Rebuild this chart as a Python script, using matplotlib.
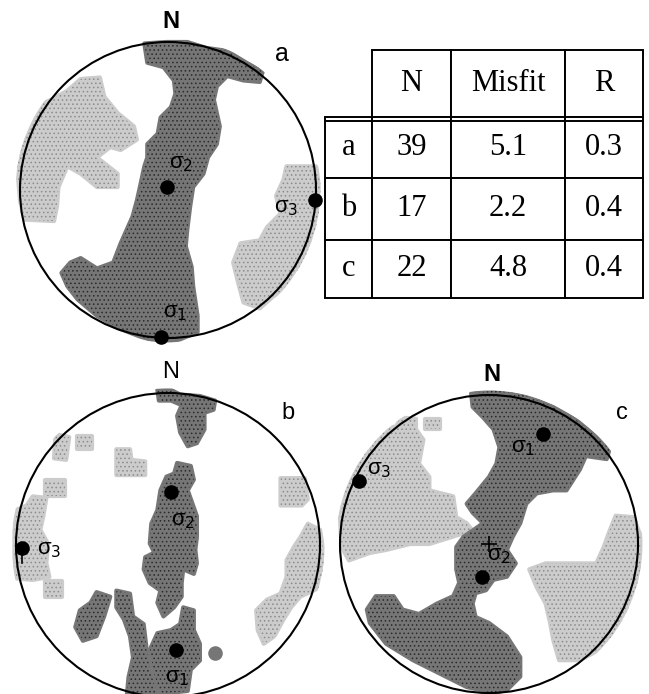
import numpy as np
import matplotlib
matplotlib.use("Agg")
import matplotlib.pyplot as plt
from matplotlib.patches import Polygon, Circle

# projected coordinates on a unit equal-area net (x = east, y = north)

# --- net a ---
dark_a = [
    [(-0.16, 0.99), (-0.01, 1.00), (0.13, 1.00), (0.26, 0.96), (0.40, 0.94), (0.53, 0.86),
     (0.64, 0.80), (0.62, 0.73), (0.51, 0.74), (0.40, 0.77), (0.33, 0.70), (0.31, 0.61),
     (0.33, 0.52), (0.35, 0.43), (0.33, 0.31), (0.27, 0.22), (0.24, 0.11), (0.17, 0.02),
     (0.15, -0.11), (0.13, -0.27), (0.12, -0.38), (0.16, -0.52), (0.17, -0.65), (0.20, -0.85),
     (0.20, -0.96), (0.08, -1.01), (-0.05, -1.03), (-0.19, -0.99), (-0.32, -0.94), (-0.48, -0.85),
     (-0.61, -0.74), (-0.68, -0.65), (-0.72, -0.56), (-0.66, -0.49), (-0.59, -0.46), (-0.48, -0.53),
     (-0.37, -0.49), (-0.32, -0.36), (-0.28, -0.27), (-0.24, -0.18), (-0.21, -0.07), (-0.19, 0.02),
     (-0.16, 0.16), (-0.14, 0.22), (-0.14, 0.31), (-0.07, 0.38), (-0.05, 0.49), (0.02, 0.56),
     (0.05, 0.65), (0.04, 0.74), (-0.03, 0.83), (-0.14, 0.86)],
]
light_a = [
    [(-0.59, 0.75), (-0.46, 0.76), (-0.43, 0.63), (-0.34, 0.52), (-0.23, 0.43), (-0.21, 0.34),
     (-0.32, 0.27), (-0.39, 0.29), (-0.48, 0.22), (-0.34, 0.11), (-0.34, 0.02), (-0.48, 0.02),
     (-0.59, 0.11), (-0.68, 0.16), (-0.74, 0.02), (-0.75, -0.11), (-0.77, -0.21), (-0.97, -0.20),
     (-1.00, -0.07), (-1.02, 0.16), (-0.99, 0.31), (-0.93, 0.43), (-0.90, 0.56), (-0.79, 0.61),
     (-0.68, 0.67)],
    [(0.80, 0.16), (1.00, 0.16), (1.05, -0.02), (1.04, -0.25), (1.00, -0.40), (0.93, -0.52),
     (0.85, -0.63), (0.71, -0.72), (0.62, -0.80), (0.51, -0.76), (0.48, -0.65), (0.44, -0.49),
     (0.49, -0.36), (0.62, -0.34), (0.67, -0.25), (0.76, -0.16), (0.73, -0.04), (0.78, 0.07)],
]
dots_a = []
sigma_a = [(-0.05, -0.99), (-0.01, 0.02), (0.99, -0.07)]   # sigma1, sigma2, sigma3

# --- net b ---
dark_b = [
    [(-0.07, 1.02), (0.02, 1.02), (0.08, 0.99), (0.21, 0.98), (0.31, 0.95), (0.30, 0.89),
     (0.24, 0.87), (0.24, 0.76), (0.19, 0.67), (0.13, 0.65), (0.08, 0.74), (0.06, 0.85),
     (0.09, 0.92), (0.02, 0.95), (-0.06, 0.95)],
    [(0.06, 0.54), (0.15, 0.52), (0.17, 0.43), (0.13, 0.36), (0.19, 0.19), (0.19, 0.05),
     (0.18, -0.03), (0.19, -0.12), (0.17, -0.19), (0.10, -0.16), (0.09, -0.25), (0.09, -0.34),
     (0.04, -0.41), (-0.03, -0.47), (-0.07, -0.38), (-0.05, -0.30), (-0.12, -0.25), (-0.16, -0.16),
     (-0.15, -0.08), (-0.09, -0.05), (-0.12, 0.01), (-0.11, 0.14), (-0.07, 0.23), (-0.05, 0.36),
     (-0.01, 0.45), (0.04, 0.47)],
    [(-0.47, -0.31), (-0.38, -0.34), (-0.42, -0.47), (-0.47, -0.60), (-0.56, -0.63), (-0.61, -0.54),
     (-0.58, -0.43), (-0.51, -0.38)],
    [(-0.34, -0.30), (-0.25, -0.32), (-0.23, -0.47), (-0.16, -0.52), (-0.14, -0.69), (-0.12, -0.82),
     (-0.07, -0.98), (-0.27, -0.98), (-0.26, -0.87), (-0.23, -0.74), (-0.25, -0.60), (-0.29, -0.49),
     (-0.34, -0.41)],
    [(0.10, -0.41), (0.17, -0.43), (0.17, -0.56), (0.21, -0.65), (0.21, -0.76), (0.15, -0.82),
     (0.13, -0.96), (-0.05, -0.98), (-0.09, -0.85), (-0.12, -0.69), (-0.07, -0.58), (0.02, -0.56),
     (0.08, -0.52)],
]
light_b = [
    [(-0.74, 0.73), (-0.65, 0.71), (-0.67, 0.56), (-0.75, 0.57)],
    [(-0.60, 0.72), (-0.50, 0.72), (-0.50, 0.63), (-0.60, 0.63)],
    [(-0.34, 0.63), (-0.25, 0.63), (-0.24, 0.56), (-0.15, 0.55), (-0.15, 0.46), (-0.34, 0.46)],
    [(-0.81, 0.43), (-0.68, 0.43), (-0.68, 0.32), (-0.81, 0.32)],
    [(-0.89, 0.32), (-0.80, 0.31), (-0.82, 0.19), (-0.84, 0.10), (-0.79, 0.01), (-0.80, -0.12),
     (-0.78, -0.21), (-0.89, -0.23), (-1.00, -0.22), (-1.01, -0.08), (-1.01, 0.10), (-1.00, 0.23),
     (-0.93, 0.26)],
    [(-0.81, -0.24), (-0.70, -0.24), (-0.70, -0.34), (-0.81, -0.34)],
    [(0.74, 0.44), (0.90, 0.44), (0.92, 0.30), (0.88, 0.26), (0.74, 0.26)],
    [(0.92, 0.14), (1.00, 0.10), (1.03, -0.08), (1.02, -0.27), (0.87, -0.34), (0.81, -0.41),
     (0.76, -0.49), (0.70, -0.60), (0.63, -0.65), (0.59, -0.56), (0.58, -0.43), (0.65, -0.36),
     (0.74, -0.32), (0.78, -0.21), (0.78, -0.10), (0.83, -0.01), (0.87, 0.05)],
]
dots_b = [(0.31, -0.71)]
sigma_b = [(0.05, -0.69), (0.02, 0.35), (-0.96, -0.02)]

# --- net c ---
dark_c = [
    [(-0.12, 1.01), (0.03, 1.03), (0.21, 1.01), (0.43, 0.92), (0.59, 0.83), (0.72, 0.72),
     (0.81, 0.64), (0.79, 0.57), (0.65, 0.59), (0.61, 0.50), (0.52, 0.36), (0.43, 0.36),
     (0.32, 0.34), (0.25, 0.27), (0.21, 0.14), (0.16, 0.05), (0.12, -0.04), (0.18, -0.13),
     (0.12, -0.22), (0.03, -0.24), (-0.02, -0.31), (-0.09, -0.33), (-0.11, -0.40), (-0.09, -0.49),
     (0.00, -0.53), (0.12, -0.62), (0.21, -0.76), (0.21, -0.89), (0.12, -0.98), (0.03, -1.00),
     (-0.15, -0.96), (-0.33, -0.87), (-0.51, -0.78), (-0.69, -0.67), (-0.80, -0.53), (-0.82, -0.44),
     (-0.76, -0.35), (-0.64, -0.35), (-0.58, -0.44), (-0.47, -0.47), (-0.35, -0.40), (-0.24, -0.35),
     (-0.20, -0.26), (-0.22, -0.17), (-0.22, -0.02), (-0.17, 0.05), (-0.11, 0.09), (-0.04, 0.14),
     (-0.11, 0.21), (-0.15, 0.27), (-0.09, 0.34), (0.00, 0.45), (0.05, 0.54), (0.07, 0.65),
     (0.03, 0.77), (-0.04, 0.85), (-0.11, 0.92)],
]
light_c = [
    [(-0.60, 0.85), (-0.49, 0.84), (-0.49, 0.77), (-0.44, 0.70), (-0.47, 0.54), (-0.40, 0.45),
     (-0.40, 0.36), (-0.24, 0.32), (-0.22, 0.18), (-0.15, 0.14), (-0.11, 0.09), (-0.24, 0.05),
     (-0.40, 0.00), (-0.53, 0.00), (-0.69, -0.04), (-0.80, -0.06), (-0.94, -0.11), (-0.99, -0.02),
     (-1.00, 0.18), (-0.96, 0.38), (-0.89, 0.54), (-0.82, 0.68), (-0.73, 0.77), (-0.62, 0.79)],
    [(-0.43, 0.84), (-0.33, 0.84), (-0.33, 0.77), (-0.43, 0.77)],
    [(0.85, 0.19), (0.97, 0.18), (1.02, 0.05), (1.02, -0.20), (0.99, -0.35), (0.92, -0.49),
     (0.83, -0.62), (0.74, -0.71), (0.61, -0.78), (0.47, -0.78), (0.43, -0.64), (0.41, -0.53),
     (0.38, -0.40), (0.32, -0.29), (0.27, -0.17), (0.38, -0.13), (0.56, -0.13), (0.72, -0.13),
     (0.77, -0.02), (0.81, 0.09)],
]
dots_c = []
sigma_c = [(0.36, 0.74), (-0.05, -0.22), (-0.87, 0.42)]

# --- table ---
sites = ['a', 'b', 'c']
columns = ['N', 'Misfit', 'R']
n_faults = [39, 17, 22]
misfit = [5.1, 2.2, 4.8]
ratio_r = [0.3, 0.4, 0.4]

# halftone-like screens: (face, dot colour)
DARK = ('#767676', '#2a2a2a')
LIGHT = ('#cccccc', '#8c8c8c')
W, H = 649, 694
L = 1.25

plt.rcParams['hatch.linewidth'] = 0.6
fig = plt.figure(figsize=(W / 100, H / 100), dpi=100)


def net_axes(cx, cy, r):
    # cx, cy, r of the net circle in pixels
    return fig.add_axes([(cx - L * r) / W, (H - cy - L * r) / H, 2 * L * r / W, 2 * L * r / H])


def screen(ax, poly, shade, z):
    clip = Circle((0, 0), 1.03, transform=ax.transData)
    base = Polygon(poly, closed=True, fc=shade[0], ec=shade[0], lw=3, joinstyle='round', zorder=z)
    dots = Polygon(poly, closed=True, fill=False, ec=shade[1], lw=0, hatch='....', zorder=z)
    for p in (base, dots):
        ax.add_patch(p)
        p.set_clip_path(clip)


def draw_net(ax, dark, light, dots, sigmas, offs, name, name_xy, n_weight, cross=False):
    ax.set_xlim(-L, L)
    ax.set_ylim(-L, L)
    ax.axis('off')
    for p in light:
        screen(ax, p, LIGHT, 1)
    for p in dark:
        screen(ax, p, DARK, 2)
    if dots:
        ax.scatter(*zip(*dots), s=110, c=DARK[0], lw=0, zorder=2)
    ax.add_patch(Circle((0, 0), 1, fill=False, ec='black', lw=1.5, zorder=3))
    if cross:
        ax.plot(0, 0, marker='+', ms=12, mew=1.2, color='black', zorder=4)
    sx, sy = zip(*sigmas)
    ax.scatter(sx, sy, s=110, c='black', lw=0, zorder=5)
    for i, (x, y) in enumerate(sigmas):
        ax.text(x + offs[i][0], y + offs[i][1], 'σ$_%d$' % (i + 1), fontsize=16,
                family='Liberation Sans', ha='center', va='center', zorder=6)
    ax.text(0.02, 1.14, 'N', fontsize=17, fontweight=n_weight, family='Liberation Sans',
            ha='center', va='center')
    ax.text(name_xy[0], name_xy[1], name, fontsize=name_xy[2], family='Liberation Sans',
            ha='center', va='center')


ax_a = net_axes(168, 190, 148)
draw_net(ax_a, dark_a, light_a, dots_a, sigma_a,
         [(0.10, 0.16), (0.10, 0.16), (-0.19, -0.05)], 'a', (0.77, 0.92, 18), 'bold')

ax_b = net_axes(168, 545, 152)
draw_net(ax_b, dark_b, light_b, dots_b, sigma_b,
         [(0.01, -0.18), (0.08, -0.19), (0.18, -0.01)], 'b', (0.79, 0.87, 17), 'normal')
ax_b.plot([sigma_b[2][0]] * 2, [sigma_b[2][1], sigma_b[2][1] - 0.1], color='black', lw=1.2, zorder=5)

ax_c = net_axes(489, 544, 149)
draw_net(ax_c, dark_c, light_c, dots_c, sigma_c,
         [(-0.13, -0.09), (0.12, 0.14), (0.13, 0.08)], 'c', (0.89, 0.88, 17), 'bold', cross=True)

# table
tx0, ty0, tx1, ty1 = 325, 50, 643, 298
tax = fig.add_axes([tx0 / W, (H - ty1) / H, (tx1 - tx0) / W, (ty1 - ty0) / H])
tax.axis('off')
cells = [[s, str(n), '%.1f' % m, '%.1f' % q] for s, n, m, q in zip(sites, n_faults, misfit, ratio_r)]
tb = tax.table(cellText=cells, colLabels=[''] + columns, colWidths=[47, 79, 114, 78],
               cellLoc='center', bbox=[0, 0, 1, 1])
tb.auto_set_font_size(False)
row_h = [67, 61, 62, 58]
for (r, c), cell in tb.get_celld().items():
    cell.set_height(row_h[r])
    cell.set_linewidth(1.4)
    cell.get_text().set_fontfamily('Liberation Serif')
    cell.get_text().set_fontsize(22)
tb[0, 0].visible_edges = ''
tax.axhline((58 + 62 + 61 - 4) / 248, color='black', lw=1.4)

fig.savefig('out.png', dpi=100)
